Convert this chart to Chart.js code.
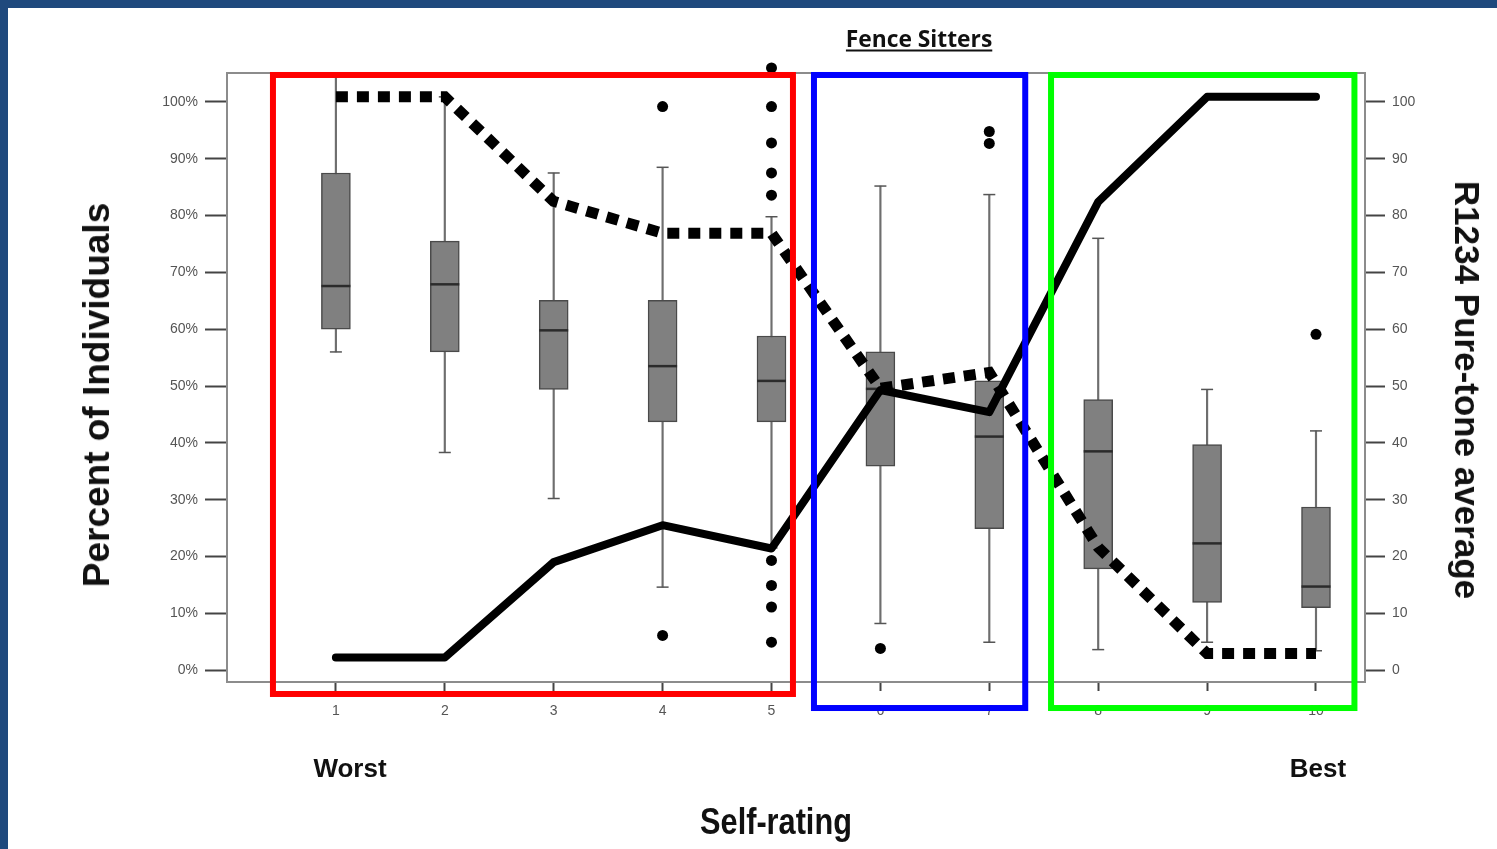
<!DOCTYPE html>
<html>
<head>
  <script src="https://cdn.jsdelivr.net/npm/chart.js"></script>
  <style>
    body { margin: 0; background: #fff; }
    #wrap { position: relative; width: 1497px; height: 849px; overflow: hidden; font-family: "Liberation Sans", Arial, sans-serif; }
    #frameTop { position: absolute; left: 0; top: 0; width: 1497px; height: 8px; background: #1f497d; }
    #frameLeft { position: absolute; left: 0; top: 0; width: 8px; height: 849px; background: #1f497d; }
    .lbl { position: absolute; white-space: nowrap; font-weight: bold; color: #111; transform-origin: center center; }
  </style>
</head>
<body>
  <div id="wrap">
    <canvas id="boxChart" width="1497" height="849"></canvas>
    <div id="frameTop"></div>
    <div id="frameLeft"></div>
    <div class="lbl" style="left:919px; top:37px; font-family:'Open Sans',sans-serif; font-size:24px; text-decoration:underline; text-underline-offset:3px; transform:translate(-50%,-50%) scaleX(0.95);">Fence Sitters</div>
    <div class="lbl" style="left:97px; top:395px; font-size:37px; transform:translate(-50%,-50%) rotate(-90deg);">Percent of Individuals</div>
    <div class="lbl" style="left:1467px; top:390px; font-size:35px; transform:translate(-50%,-50%) rotate(90deg);">R1234 Pure-tone average</div>
    <div class="lbl" style="left:776px; top:822px; font-size:37px; transform:translate(-50%,-50%) scaleX(0.83);">Self-rating</div>
    <div class="lbl" style="left:350px; top:768px; font-size:26px; transform:translate(-50%,-50%);">Worst</div>
    <div class="lbl" style="left:1318px; top:768px; font-size:26px; transform:translate(-50%,-50%);">Best</div>
  </div>
  <script>
    // self-rating categories and tick labels
    const ratings = [1, 2, 3, 4, 5, 6, 7, 8, 9, 10];
    const xTickLabels = ['1', '2', '3', '4', '5', '6', '7', '8', '9', '10'];
    const pctTicks = [0, 10, 20, 30, 40, 50, 60, 70, 80, 90, 100];
    const ptaTicks = [0, 10, 20, 30, 40, 50, 60, 70, 80, 90, 100];

    // box plot values (percent of individuals)
    const whiskerLow  = [56.0, 38.3, 30.2, 14.6, 21.5, 8.2, 4.9, 3.6, 4.9, 3.4];
    const q1          = [60.0, 56.0, 49.4, 43.7, 43.7, 35.9, 24.9, 17.8, 11.9, 11.0];
    const median      = [67.6, 67.9, 59.8, 53.5, 50.9, 49.5, 41.1, 38.5, 22.3, 14.7];
    const q3          = [87.5, 75.5, 65.1, 65.1, 58.8, 56.0, 50.9, 47.6, 39.7, 28.7];
    const whiskerHigh = [105.0, 100.9, 87.5, 88.5, 79.8, 85.2, 83.7, 76.0, 49.4, 42.1];
    const outliers = [
      [], [], [], [99.2, 6.1],
      [106.0, 99.2, 92.8, 87.5, 83.6, 19.3, 14.9, 11.1, 4.9],
      [3.8], [94.8, 92.7], [], [], [59.1]
    ];

    // lines
    const pureToneAvg = [2.2, 2.2, 19.0, 25.5, 21.4, 49.3, 45.4, 82.4, 100.9, 100.9];
    const pctDotted   = [100.9, 100.9, 82.5, 76.9, 76.9, 49.6, 52.4, 21.6, 2.9, 2.9];

    // highlight rectangles, in axis units
    const regions = [
      { x0: 0.422, x1: 5.197, y0: 104.75, y1: -4.21, color: '#ff0000' },
      { x0: 5.39,  x1: 7.33,  y0: 104.75, y1: -6.68, color: '#0000ff' },
      { x0: 7.567, x1: 10.353, y0: 104.75, y1: -6.68, color: '#00ff00' }
    ];

    const whiskerData = ratings.map((r, i) => ({ x: r, y: [whiskerLow[i], whiskerHigh[i]] }));
    const boxData = ratings.map((r, i) => ({ x: r, y: [q1[i], q3[i]] }));
    const medianData = ratings.map((r, i) => ({ x: r, y: median[i] }));
    const capData = [];
    ratings.forEach((r, i) => {
      capData.push({ x: r, y: whiskerLow[i] });
      if (whiskerHigh[i] <= 102) capData.push({ x: r, y: whiskerHigh[i] });
    });
    const outlierData = [];
    ratings.forEach((r, i) => outliers[i].forEach(v => outlierData.push({ x: r, y: v })));

    const framePlugin = {
      id: 'frame',
      beforeDatasetsDraw(chart) {
        const { ctx, chartArea: a } = chart;
        ctx.save();
        ctx.strokeStyle = '#8c8c8c';
        ctx.lineWidth = 2;
        ctx.strokeRect(a.left, a.top, a.right - a.left, a.bottom - a.top);
        ctx.restore();
      },
      afterDraw(chart) {
        const { ctx, scales } = chart;
        ctx.save();
        ctx.lineWidth = 6;
        regions.forEach(rg => {
          const l = scales.x.getPixelForValue(rg.x0);
          const r = scales.x.getPixelForValue(rg.x1);
          const t = scales.y.getPixelForValue(rg.y0);
          const b = scales.y.getPixelForValue(rg.y1);
          ctx.strokeStyle = rg.color;
          ctx.strokeRect(l, t, r - l, b - t);
        });
        ctx.restore();
      }
    };

    const tickFont = { family: 'Liberation Sans', size: 14 };

    const ctx = document.getElementById('boxChart').getContext('2d');
    new Chart(ctx, {
      type: 'bar',
      data: {
        datasets: [
          {
            type: 'line', label: 'dotted', data: ratings.map((r, i) => ({ x: r, y: pctDotted[i] })),
            yAxisID: 'y', borderColor: '#000', borderWidth: 11, borderDash: [12, 9],
            borderCapStyle: 'butt', pointRadius: 0, tension: 0, order: 2
          },
          {
            type: 'line', label: 'pta', data: ratings.map((r, i) => ({ x: r, y: pureToneAvg[i] })),
            yAxisID: 'y2', borderColor: '#000', borderWidth: 8, borderCapStyle: 'round',
            borderJoinStyle: 'round', pointRadius: 0, tension: 0, order: 1
          },
          {
            type: 'line', label: 'outliers', data: outlierData, showLine: false,
            pointRadius: 5.5, pointBackgroundColor: '#000', pointBorderWidth: 0, clip: false, order: 3
          },
          {
            type: 'line', label: 'median', data: medianData, showLine: false,
            pointStyle: 'line', pointRadius: 14.5, pointBorderColor: '#2b2b2b', pointBorderWidth: 2.5, order: 4
          },
          {
            type: 'bar', label: 'box', data: boxData, grouped: false, barThickness: 29,
            backgroundColor: '#808080', borderColor: '#4a4a4a', borderWidth: 1.5, borderSkipped: false, order: 5
          },
          {
            type: 'line', label: 'caps', data: capData, showLine: false,
            pointStyle: 'line', pointRadius: 6, pointBorderColor: '#555', pointBorderWidth: 1.5, order: 6
          },
          {
            type: 'bar', label: 'whisker', data: whiskerData, grouped: false, barThickness: 1.5,
            backgroundColor: '#6e6e6e', borderWidth: 0, order: 7
          }
        ]
      },
      options: {
        responsive: false,
        animation: false,
        events: [],
        layout: { padding: { top: 73, left: 0, right: 0, bottom: 0 } },
        plugins: { legend: { display: false }, tooltip: { enabled: false } },
        scales: {
          x: {
            type: 'linear', min: 0, max: 10.45, offset: false,
            afterBuildTicks: s => { s.ticks = ratings.map(v => ({ value: v })); },
            afterFit: s => { s.height = 167; },
            border: { display: false },
            grid: { offset: false, drawOnChartArea: false, drawTicks: true, tickLength: 9, tickColor: '#444', tickWidth: 2 },
            ticks: { color: '#555', font: tickFont, padding: 12, callback: (v, i) => xTickLabels[i] }
          },
          y: {
            type: 'linear', position: 'left', min: -2.1, max: 105.1,
            afterBuildTicks: s => { s.ticks = pctTicks.map(v => ({ value: v })); },
            afterFit: s => { s.width = 227; },
            border: { display: false },
            grid: { drawOnChartArea: false, drawTicks: true, tickLength: 22, tickColor: '#444', tickWidth: 2 },
            ticks: { color: '#555', font: tickFont, padding: 7, callback: v => v + '%' }
          },
          y2: {
            type: 'linear', position: 'right', min: -2.1, max: 105.1,
            afterBuildTicks: s => { s.ticks = ptaTicks.map(v => ({ value: v })); },
            afterFit: s => { s.width = 132; },
            border: { display: false },
            grid: { drawOnChartArea: false, drawTicks: true, tickLength: 20, tickColor: '#444', tickWidth: 2 },
            ticks: { color: '#555', font: tickFont, padding: 7, callback: v => String(v) }
          }
        }
      },
      plugins: [framePlugin]
    });
  </script>
</body>
</html>
